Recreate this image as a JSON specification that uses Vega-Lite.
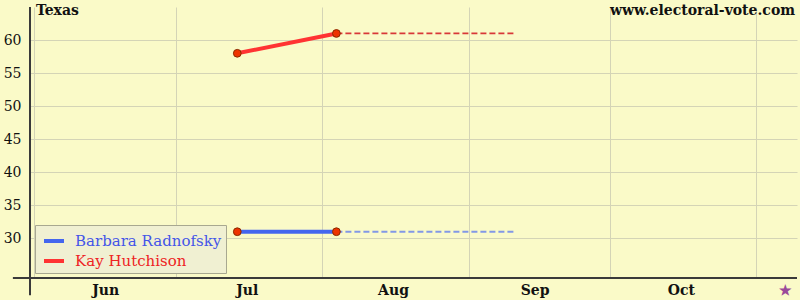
{
  "$schema": "https://vega.github.io/schema/vega-lite/v6.json",
  "width": 767,
  "height": 271,
  "autosize": "none",
  "padding": {"left": 30, "top": 7, "right": 3, "bottom": 22},
  "background": "#FAFAC8",
  "config": {
    "view": {"stroke": null},
    "font": "DejaVu Serif",
    "axis": {"labelFont": "DejaVu Serif", "labelColor": "#111111", "gridColor": "#D4D4B6"},
    "legend": {"labelFont": "DejaVu Serif"},
    "text": {"font": "DejaVu Serif"}
  },
  "datasets": {
    "polls": [
      {"candidate": "Barbara Radnofsky", "date": "2006-07-14T00:00:00", "pct": 31},
      {"candidate": "Barbara Radnofsky", "date": "2006-08-04T00:00:00", "pct": 31},
      {"candidate": "Kay Hutchison", "date": "2006-07-14T00:00:00", "pct": 58},
      {"candidate": "Kay Hutchison", "date": "2006-08-04T00:00:00", "pct": 61}
    ],
    "projection": [
      {"candidate": "Barbara Radnofsky", "date": "2006-08-04T00:00:00", "pct": 31},
      {"candidate": "Barbara Radnofsky", "date": "2006-09-11T00:00:00", "pct": 31},
      {"candidate": "Kay Hutchison", "date": "2006-08-04T00:00:00", "pct": 61},
      {"candidate": "Kay Hutchison", "date": "2006-09-11T00:00:00", "pct": 61}
    ],
    "one": [{}]
  },
  "layer": [
    {
      "data": {"name": "polls"},
      "mark": {"type": "line", "strokeWidth": 4},
      "encoding": {
        "x": {
          "field": "date", "type": "temporal",
          "scale": {"domain": [
            {"year": 2006, "month": 5, "date": 31, "hours": 2},
            {"year": 2006, "month": 11, "date": 9, "hours": 14}
          ]},
          "axis": {
            "title": null,
            "values": [
              {"year": 2006, "month": 6, "date": 1},
              {"year": 2006, "month": 6, "date": 16},
              {"year": 2006, "month": 7, "date": 1},
              {"year": 2006, "month": 7, "date": 16},
              {"year": 2006, "month": 8, "date": 1},
              {"year": 2006, "month": 8, "date": 16},
              {"year": 2006, "month": 9, "date": 1},
              {"year": 2006, "month": 9, "date": 15},
              {"year": 2006, "month": 10, "date": 1},
              {"year": 2006, "month": 10, "date": 16},
              {"year": 2006, "month": 11, "date": 1},
              {"year": 2006, "month": 11, "date": 7}
            ],
            "labelExpr": "date(datum.value) == 1 ? '' : (month(datum.value) == 10 ? '★' : timeFormat(datum.value, '%b'))",
            "labelColor": {"condition": {"test": "month(datum.value) == 10 && date(datum.value) == 7", "value": "#9A4A9A"}, "value": "#111111"},
            "labelFont": "DejaVu Serif",
            "labelFontWeight": "bold",
            "labelFontSize": 14,
            "labelPadding": 5,
            "labelOverlap": false,
            "labelFlush": false,
            "labelBound": false,
            "ticks": false,
            "domain": false,
            "grid": true,
            "gridColor": "#D4D4B6",
            "gridOpacity": {"condition": {"test": "date(datum.value) == 1", "value": 1}, "value": 0}
          }
        },
        "y": {
          "field": "pct", "type": "quantitative",
          "scale": {"domain": [24, 65], "nice": false, "zero": false},
          "axis": {
            "title": null,
            "values": [30, 35, 40, 45, 50, 55, 60],
            "labelFont": "DejaVu Serif",
            "labelFontSize": 14,
            "labelColor": "#111111",
            "labelPadding": 9,
            "ticks": false,
            "domain": false,
            "grid": true,
            "gridColor": "#D4D4B6"
          }
        },
        "color": {
          "field": "candidate", "type": "nominal",
          "scale": {"domain": ["Barbara Radnofsky", "Kay Hutchison"], "range": ["#4466EE", "#FF3333"]},
          "legend": {
            "title": null,
            "orient": "bottom-left",
            "offset": 5,
            "fillColor": "#F0F0D2",
            "strokeColor": "#A8A890",
            "padding": 4,
            "symbolType": "stroke",
            "symbolStrokeWidth": 4,
            "symbolSize": 400,
            "symbolOffset": 3,
            "labelFont": "DejaVu Serif",
            "labelFontSize": 15,
            "labelOffset": 9,
            "rowPadding": 0,
            "labelColor": {"expr": "datum.label == 'Kay Hutchison' ? '#EE2222' : '#4455E8'"}
          }
        }
      }
    },
    {
      "data": {"name": "projection"},
      "mark": {"type": "line", "strokeWidth": 1.8, "strokeDash": [6, 3]},
      "encoding": {
        "x": {"field": "date", "type": "temporal", "title": null},
        "y": {"field": "pct", "type": "quantitative", "title": null},
        "color": {
          "field": "candidate", "type": "nominal", "legend": null,
          "scale": {"domain": ["Barbara Radnofsky", "Kay Hutchison"], "range": ["#8298E6", "#D83838"]}
        },
        "detail": {"field": "candidate"}
      }
    },
    {
      "data": {"name": "polls"},
      "mark": {"type": "point", "filled": true, "size": 60, "fill": "#EE3300", "stroke": "#8A2A00", "strokeWidth": 1, "opacity": 1},
      "encoding": {
        "x": {"field": "date", "type": "temporal", "title": null},
        "y": {"field": "pct", "type": "quantitative", "title": null}
      }
    },
    {
      "data": {"name": "one"},
      "mark": {"type": "rule", "color": "#3A3A3A", "strokeWidth": 2},
      "encoding": {
        "x": {"datum": {"year": 2006, "month": 5, "date": 27, "hours": 11}, "type": "temporal", "title": null},
        "x2": {"datum": {"year": 2006, "month": 11, "date": 9, "hours": 14}},
        "y": {"datum": 24, "type": "quantitative", "title": null}
      }
    },
    {
      "data": {"name": "one"},
      "mark": {"type": "rule", "color": "#3A3A3A", "strokeWidth": 2},
      "encoding": {
        "x": {"datum": {"year": 2006, "month": 5, "date": 31, "hours": 2}, "type": "temporal", "title": null},
        "y": {"datum": 21.4, "type": "quantitative", "title": null},
        "y2": {"datum": 65}
      }
    },
    {
      "data": {"name": "one"},
      "mark": {"type": "text", "text": "Texas", "align": "left", "baseline": "alphabetic", "font": "DejaVu Serif", "fontWeight": "bold", "fontSize": 14, "color": "#111111"},
      "encoding": {
        "x": {"datum": {"year": 2006, "month": 6, "date": 1, "hours": 8}, "type": "temporal", "title": null},
        "y": {"datum": 63.85, "type": "quantitative", "title": null}
      }
    },
    {
      "data": {"name": "one"},
      "mark": {"type": "text", "text": "www.electoral-vote.com", "align": "right", "baseline": "alphabetic", "font": "DejaVu Serif", "fontWeight": "bold", "fontSize": 14, "color": "#111111"},
      "encoding": {
        "x": {"datum": {"year": 2006, "month": 11, "date": 9, "hours": 4}, "type": "temporal", "title": null},
        "y": {"datum": 63.85, "type": "quantitative", "title": null}
      }
    }
  ],
  "resolve": {"scale": {"color": "independent"}}
}
